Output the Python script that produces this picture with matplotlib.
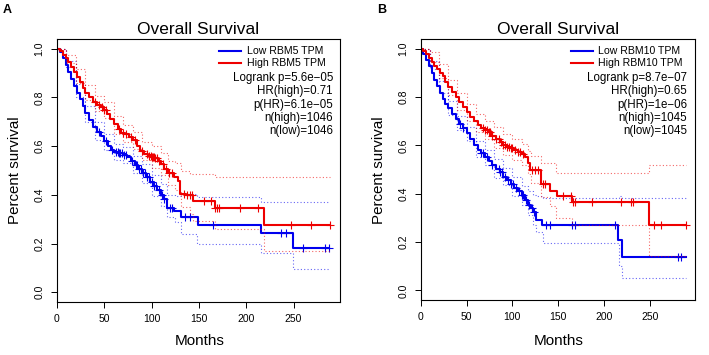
import numpy as np
import matplotlib
matplotlib.use("Agg")
from matplotlib import pyplot as plt
from matplotlib.lines import Line2D

plt.rcParams['font.family'] = ['Liberation Sans', 'DejaVu Sans']

# ---- panel A: RBM5 ----
a_low_t = [0, 3, 6, 9, 12, 15, 18, 21, 24, 27, 30, 34, 38, 42, 46, 50, 54, 57, 60, 65, 70,
           74, 78, 82, 86, 90, 94, 98, 102, 106, 110, 113, 116, 124, 131.5, 149, 216, 249, 287]
a_low_s = [1.0, 0.985, 0.96, 0.935, 0.905, 0.875, 0.848, 0.82, 0.795, 0.765, 0.735, 0.708,
           0.68, 0.658, 0.64, 0.62, 0.60, 0.585, 0.578, 0.572, 0.563, 0.555, 0.54, 0.522,
           0.505, 0.488, 0.475, 0.452, 0.435, 0.42, 0.40, 0.385, 0.345, 0.335, 0.307, 0.275,
           0.242, 0.181, 0.181]
a_high_t = [0, 3, 6, 9, 12, 15, 18, 21, 24, 27, 30, 34, 38, 42, 46, 50, 53, 56, 60, 64, 68,
            72, 76, 80, 84, 88, 92, 96, 100, 104, 107, 110, 113, 117, 124, 128, 130, 136, 144,
            166.7, 219, 288]
a_high_s = [1.0, 0.99, 0.975, 0.96, 0.945, 0.925, 0.905, 0.885, 0.862, 0.84, 0.82, 0.80,
            0.782, 0.77, 0.76, 0.748, 0.73, 0.71, 0.69, 0.672, 0.655, 0.648, 0.638, 0.625,
            0.60, 0.58, 0.568, 0.56, 0.556, 0.552, 0.54, 0.525, 0.505, 0.49, 0.475, 0.455,
            0.404, 0.40, 0.376, 0.345, 0.276, 0.276]
a_low_cens = [44, 52, 58, 62, 64, 66, 67, 69, 71, 73, 79, 83, 85, 87, 89, 91, 93, 95, 97,
              100, 103, 105, 108, 111, 113, 119, 122, 135, 140, 165, 237, 242, 260, 283, 287]
a_high_cens = [40, 44, 48, 50, 52, 65, 70, 73, 78, 82, 90, 95, 97, 99, 100, 101, 102, 104,
               106, 108, 112, 115, 118, 121, 134, 137, 140, 143, 155, 163, 167, 169, 171, 193,
               212, 247, 268, 288]
a_low_ci_t = [0, 10, 20, 30, 40, 50, 60, 70, 80, 90, 100, 110, 116, 125, 131, 148, 216, 249, 287]
a_low_up = [1.0, 0.95, 0.855, 0.765, 0.70, 0.65, 0.61, 0.595, 0.56, 0.525, 0.48, 0.445, 0.40,
            0.395, 0.404, 0.39, 0.369, 0.369, 0.369]
a_low_lo = [1.0, 0.925, 0.80, 0.70, 0.625, 0.585, 0.545, 0.53, 0.49, 0.45, 0.395, 0.355, 0.31,
            0.29, 0.24, 0.197, 0.162, 0.094, 0.094]
a_high_ci_t = [0, 10, 20, 30, 40, 50, 60, 70, 80, 90, 100, 110, 117, 125, 131, 140, 144, 167,
               219, 288]
a_high_up = [1.0, 0.975, 0.915, 0.85, 0.805, 0.78, 0.725, 0.685, 0.66, 0.615, 0.60, 0.57, 0.54,
             0.53, 0.50, 0.486, 0.486, 0.472, 0.472, 0.472]
a_high_lo = [1.0, 0.94, 0.86, 0.79, 0.745, 0.715, 0.65, 0.615, 0.59, 0.545, 0.51, 0.48, 0.44,
             0.42, 0.35, 0.32, 0.293, 0.259, 0.169, 0.169]
a_labels = ["Low RBM5 TPM", "High RBM5 TPM"]
a_stats = ["Logrank p=5.6e\u221205", "HR(high)=0.71", "p(HR)=6.1e\u221205",
           "n(high)=1046", "n(low)=1046"]

# ---- panel B: RBM10 ----
b_low_t = [0, 3, 6, 9, 12, 15, 18, 21, 24, 27, 30, 34, 38, 42, 46, 50, 54, 58, 62, 66, 70,
           74, 78, 82, 86, 90, 94, 98, 102, 106, 110, 114, 117, 120, 123, 126, 132.7, 215.5,
           220, 290]
b_low_s = [1.0, 0.98, 0.955, 0.93, 0.90, 0.87, 0.845, 0.815, 0.79, 0.77, 0.755, 0.73, 0.71,
           0.69, 0.67, 0.65, 0.628, 0.60, 0.58, 0.57, 0.553, 0.535, 0.52, 0.503, 0.488, 0.47,
           0.455, 0.44, 0.425, 0.41, 0.395, 0.375, 0.355, 0.34, 0.325, 0.293, 0.27, 0.21,
           0.137, 0.137]
b_high_t = [0, 3, 6, 9, 12, 15, 18, 21, 24, 27, 30, 34, 38, 42, 46, 50, 54, 58, 62, 66, 70,
            74, 78, 82, 86, 90, 94, 98, 102, 106, 110, 114, 117, 119, 131, 141, 149, 165, 249,
            290]
b_high_s = [1.0, 0.99, 0.978, 0.963, 0.945, 0.93, 0.915, 0.90, 0.885, 0.862, 0.843, 0.82,
            0.80, 0.778, 0.757, 0.737, 0.718, 0.70, 0.685, 0.672, 0.662, 0.655, 0.64, 0.628,
            0.615, 0.60, 0.594, 0.588, 0.58, 0.572, 0.565, 0.55, 0.528, 0.50, 0.438, 0.41,
            0.389, 0.365, 0.272, 0.272]
b_low_cens = [43, 46, 66, 68, 72, 78, 85, 87, 89, 92, 95, 98, 101, 104, 107, 110, 112, 115,
              118, 121, 124, 137, 141, 165, 168, 212, 281, 284]
b_high_cens = [68, 70, 72, 74, 76, 78, 82, 85, 88, 90, 92, 94, 96, 98, 100, 103, 106, 108,
               112, 122, 125, 128, 133, 136, 155, 164, 166, 168, 187, 219, 229, 232, 255, 262,
               290]
b_low_ci_t = [0, 10, 20, 30, 40, 50, 60, 70, 80, 90, 100, 110, 117, 123, 126, 133, 216, 220, 290]
b_low_up = [1.0, 0.95, 0.865, 0.785, 0.72, 0.675, 0.62, 0.58, 0.545, 0.505, 0.47, 0.43, 0.41,
            0.395, 0.39, 0.383, 0.39, 0.383, 0.383]
b_low_lo = [1.0, 0.915, 0.815, 0.725, 0.665, 0.62, 0.55, 0.52, 0.465, 0.435, 0.39, 0.355, 0.31,
            0.27, 0.24, 0.196, 0.10, 0.051, 0.051]
b_high_ci_t = [0, 10, 20, 30, 40, 50, 60, 70, 80, 90, 100, 110, 117, 120, 131, 141, 148, 165,
               249, 290]
b_high_up = [1.0, 0.985, 0.935, 0.87, 0.815, 0.77, 0.73, 0.70, 0.675, 0.645, 0.625, 0.605,
             0.575, 0.555, 0.528, 0.528, 0.486, 0.486, 0.517, 0.517]
b_high_lo = [1.0, 0.945, 0.88, 0.81, 0.745, 0.70, 0.655, 0.625, 0.59, 0.56, 0.54, 0.52, 0.48,
             0.445, 0.385, 0.35, 0.30, 0.272, 0.141, 0.141]
b_labels = ["Low RBM10 TPM", "High RBM10 TPM"]
b_stats = ["Logrank p=8.7e\u221207", "HR(high)=0.65", "p(HR)=1e\u221206",
           "n(high)=1045", "n(low)=1045"]

W, H = 709, 355
BLUE, RED = "#0000ee", "#ee0000"


def px(x, y):
    return x / W, 1 - y / H


def km(ax, t, s, cens, ci_t, up, lo, color):
    t = np.asarray(t, float)
    s = np.asarray(s, float)
    ax.step(ci_t, up, where='post', color=color, lw=0.8, ls=(0, (1, 2)), alpha=0.6)
    ax.step(ci_t, lo, where='post', color=color, lw=0.8, ls=(0, (1, 2)), alpha=0.6)
    ax.step(t, s, where='post', color=color, lw=1.5)
    idx = np.searchsorted(t, cens, side='right') - 1
    ax.plot(cens, s[idx], ls='none', marker='+', ms=5.5, mew=0.8, color=color)


def panel(fig, rect, low, high, labels, stats, x0, x1, leg_x, txt_x, right_x, tag, tag_x):
    ax = fig.add_axes(rect)
    km(ax, *low, BLUE)
    km(ax, *high, RED)
    ax.set_xlim(0, 299)
    ax.set_ylim(-0.04, 1.04)
    ax.set_xticks([0, 50, 100, 150, 200, 250])
    ax.set_yticks([0, 0.2, 0.4, 0.6, 0.8, 1.0])
    ax.set_yticklabels(["0.0", "0.2", "0.4", "0.6", "0.8", "1.0"], rotation=90, va='center')
    ax.tick_params(labelsize=7.5, length=4, width=0.7, pad=5)
    for sp in ax.spines.values():
        sp.set_linewidth(0.8)
    cx = (x0 + x1) / 2
    fig.text(*px(cx, 29), "Overall Survival", ha='center', va='center', fontsize=12.5)
    fig.text(*px(cx + 1, 341), "Months", ha='center', va='center', fontsize=11)
    fig.text(*px(x0 - 42, 170), "Percent survival", ha='center', va='center',
             rotation=90, fontsize=10.9)
    fig.text(*px(tag_x, 10), tag, ha='left', va='center', fontsize=9, fontweight='bold')
    for y, lab, c in [(51, labels[0], BLUE), (63, labels[1], RED)]:
        fig.add_artist(Line2D([leg_x / W, (leg_x + 22) / W], [1 - y / H] * 2,
                              color=c, lw=1.5, transform=fig.transFigure))
        fig.text(*px(txt_x, y), lab, ha='left', va='center', fontsize=7.6)
    for y, st in zip([77.5, 91, 104.5, 118, 131.5], stats):
        fig.text(*px(right_x, y), st, ha='right', va='center', fontsize=8.3)
    return ax


def main():
    fig = plt.figure(figsize=(W / 100, H / 100), dpi=100)
    panel(fig, [57 / W, 53 / H, 283 / W, 263 / H],
          (a_low_t, a_low_s, a_low_cens, a_low_ci_t, a_low_up, a_low_lo),
          (a_high_t, a_high_s, a_high_cens, a_high_ci_t, a_high_up, a_high_lo),
          a_labels, a_stats, 57, 340, 219, 247, 333, "A", 3)
    panel(fig, [420.7 / W, 55 / H, 274 / W, 261 / H],
          (b_low_t, b_low_s, b_low_cens, b_low_ci_t, b_low_up, b_low_lo),
          (b_high_t, b_high_s, b_high_cens, b_high_ci_t, b_high_up, b_high_lo),
          b_labels, b_stats, 420.7, 694.7, 571, 598, 687, "B", 377)
    fig.savefig("out.png", dpi=100)


if __name__ == "__main__":
    main()
